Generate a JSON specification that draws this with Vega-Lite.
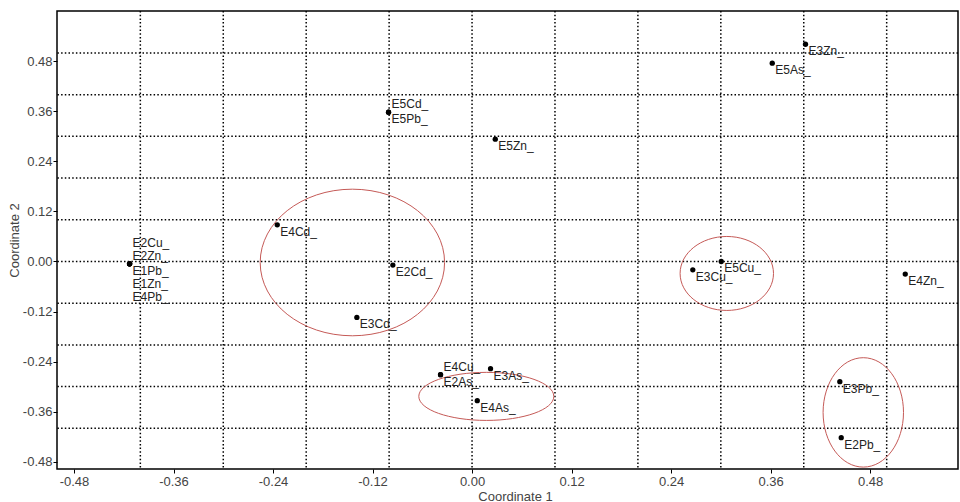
{
  "$schema": "https://vega.github.io/schema/vega-lite/v6.json",
  "autosize": "none",
  "width": 901,
  "height": 458,
  "padding": {"left": 57, "top": 11, "right": 2, "bottom": 33},
  "background": "white",
  "config": {
    "view": {"stroke": "#000000", "strokeWidth": 1.5},
    "font": "Liberation Sans",
    "axis": {
      "grid": false,
      "domain": false,
      "tickColor": "#000000",
      "tickSize": 4,
      "labelFont": "Liberation Sans",
      "labelFontSize": 13,
      "labelColor": "#444444",
      "titleFont": "Liberation Sans",
      "titleFontSize": 13,
      "titleFontWeight": "normal",
      "titleColor": "#444444"
    }
  },
  "datasets": {
    "pts": [
      {"name": "E2Cu_", "x": -0.413, "y": -0.0055, "rank": -2},
      {"name": "E2Zn_", "x": -0.413, "y": -0.0055, "rank": -1},
      {"name": "E1Pb_", "x": -0.413, "y": -0.0055, "rank": 0},
      {"name": "E1Zn_", "x": -0.413, "y": -0.0055, "rank": 1},
      {"name": "E4Pb_", "x": -0.413, "y": -0.0055, "rank": 2},
      {"name": "E4Cd_", "x": -0.2349, "y": 0.0879, "rank": 0},
      {"name": "E5Cd_", "x": -0.1007, "y": 0.3579, "rank": -1},
      {"name": "E5Pb_", "x": -0.1007, "y": 0.3579, "rank": 0},
      {"name": "E5Zn_", "x": 0.028, "y": 0.2932, "rank": 0},
      {"name": "E2Cd_", "x": -0.0955, "y": -0.0086, "rank": 0},
      {"name": "E3Cd_", "x": -0.1389, "y": -0.1342, "rank": 0},
      {"name": "E3Zn_", "x": 0.4021, "y": 0.5208, "rank": 0},
      {"name": "E5As_", "x": 0.362, "y": 0.4753, "rank": 0},
      {"name": "E4Cu_", "x": -0.038, "y": -0.2714, "rank": -1},
      {"name": "E2As_", "x": -0.038, "y": -0.2714, "rank": 0},
      {"name": "E3As_", "x": 0.0223, "y": -0.2571, "rank": 0},
      {"name": "E4As_", "x": 0.0063, "y": -0.3337, "rank": 0},
      {"name": "E3Pb_", "x": 0.4435, "y": -0.2882, "rank": 0},
      {"name": "E2Pb_", "x": 0.4452, "y": -0.4224, "rank": 0},
      {"name": "E5Cu_", "x": 0.3005, "y": 0.0, "rank": 0},
      {"name": "E3Cu_", "x": 0.2662, "y": -0.0199, "rank": 0},
      {"name": "E4Zn_", "x": 0.5224, "y": -0.0302, "rank": 0}
    ],
    "gridx": [{"v": -0.4}, {"v": -0.3}, {"v": -0.2}, {"v": -0.1}, {"v": 0.0}, {"v": 0.1}, {"v": 0.2}, {"v": 0.3}, {"v": 0.4}, {"v": 0.5}],
    "gridy": [{"v": -0.4}, {"v": -0.3}, {"v": -0.2}, {"v": -0.1}, {"v": 0.0}, {"v": 0.1}, {"v": 0.2}, {"v": 0.3}, {"v": 0.4}, {"v": 0.5}],
    "ell": [
      {"group": "Cd", "cx": -0.1443, "cy": -0.0024},
      {"group": "As", "cx": 0.0172, "cy": -0.3234},
      {"group": "Cu", "cx": 0.3072, "cy": -0.0287},
      {"group": "Pb", "cx": 0.4718, "cy": -0.3618}
    ]
  },
  "layer": [
    {
      "data": {"name": "gridx"},
      "mark": {"type": "rule", "color": "#000000", "strokeWidth": 1.5, "strokeDash": [1.5, 2.2]},
      "encoding": {
        "x": {"field": "v", "type": "quantitative", "scale": {"domain": [-0.5005, 0.586], "zero": false, "nice": false},
          "axis": {"values": [-0.48, -0.36, -0.24, -0.12, 0, 0.12, 0.24, 0.36, 0.48], "labelExpr": "replace(format(datum.value, '.2f'), '\u2212', '-')", "title": "Coordinate 1", "labelPadding": 2, "titlePadding": 2, "titleX": 458}}
      }
    },
    {
      "data": {"name": "gridy"},
      "mark": {"type": "rule", "color": "#000000", "strokeWidth": 1.5, "strokeDash": [1.5, 2.2]},
      "encoding": {
        "y": {"field": "v", "type": "quantitative", "scale": {"domain": [-0.4975, 0.6005], "zero": false, "nice": false},
          "axis": {"values": [-0.48, -0.36, -0.24, -0.12, 0, 0.12, 0.24, 0.36, 0.48], "labelExpr": "replace(format(datum.value, '.2f'), '\u2212', '-')", "title": "Coordinate 2", "labelPadding": 1, "titlePadding": 1}}
      }
    },
    {
      "data": {"name": "ell"},
      "transform": [{"filter": "datum.group == 'Cd'"}],
      "mark": {"type": "point", "filled": false, "stroke": "#c55a57", "strokeWidth": 1, "opacity": 1, "size": 34003,
        "shape": "M-1,0 C-1,-0.439 -0.552,-0.795 0,-0.795 C0.552,-0.795 1,-0.439 1,0 C1,0.439 0.552,0.795 0,0.795 C-0.552,0.795 -1,0.439 -1,0 Z"},
      "encoding": {"x": {"field": "cx", "type": "quantitative"}, "y": {"field": "cy", "type": "quantitative"}}
    },
    {
      "data": {"name": "ell"},
      "transform": [{"filter": "datum.group == 'As'"}],
      "mark": {"type": "point", "filled": false, "stroke": "#c55a57", "strokeWidth": 1, "opacity": 1, "size": 18225,
        "shape": "M-1,0 C-1,-0.197 -0.552,-0.356 0,-0.356 C0.552,-0.356 1,-0.197 1,0 C1,0.197 0.552,0.356 0,0.356 C-0.552,0.356 -1,0.197 -1,0 Z"},
      "encoding": {"x": {"field": "cx", "type": "quantitative"}, "y": {"field": "cy", "type": "quantitative"}}
    },
    {
      "data": {"name": "ell"},
      "transform": [{"filter": "datum.group == 'Cu'"}],
      "mark": {"type": "point", "filled": false, "stroke": "#c55a57", "strokeWidth": 1, "opacity": 1, "size": 8724,
        "shape": "M-1,0 C-1,-0.437 -0.552,-0.792 0,-0.792 C0.552,-0.792 1,-0.437 1,0 C1,0.437 0.552,0.792 0,0.792 C-0.552,0.792 -1,0.437 -1,0 Z"},
      "encoding": {"x": {"field": "cx", "type": "quantitative"}, "y": {"field": "cy", "type": "quantitative"}}
    },
    {
      "data": {"name": "ell"},
      "transform": [{"filter": "datum.group == 'Pb'"}],
      "mark": {"type": "point", "filled": false, "stroke": "#c55a57", "strokeWidth": 1, "opacity": 1, "size": 11968,
        "shape": "M-0.735,0 C-0.735,-0.552 -0.406,-1 0,-1 C0.406,-1 0.735,-0.552 0.735,0 C0.735,0.552 0.406,1 0,1 C-0.406,1 -0.735,0.552 -0.735,0 Z"},
      "encoding": {"x": {"field": "cx", "type": "quantitative"}, "y": {"field": "cy", "type": "quantitative"}}
    },
    {
      "data": {"name": "pts"},
      "mark": {"type": "circle", "color": "#000000", "size": 28, "opacity": 1},
      "encoding": {"x": {"field": "x", "type": "quantitative"}, "y": {"field": "y", "type": "quantitative"}}
    },
    {
      "data": {"name": "pts"},
      "transform": [{"filter": "datum.rank == 0"}],
      "mark": {"type": "text", "align": "left", "baseline": "alphabetic", "dx": 3, "dy": 11, "fontSize": 12, "color": "#222222"},
      "encoding": {"x": {"field": "x", "type": "quantitative"}, "y": {"field": "y", "type": "quantitative"}, "text": {"field": "name"}}
    },
    {
      "data": {"name": "pts"},
      "transform": [{"filter": "datum.rank == 1"}],
      "mark": {"type": "text", "align": "left", "baseline": "alphabetic", "dx": 3, "dy": 24, "fontSize": 12, "color": "#222222"},
      "encoding": {"x": {"field": "x", "type": "quantitative"}, "y": {"field": "y", "type": "quantitative"}, "text": {"field": "name"}}
    },
    {
      "data": {"name": "pts"},
      "transform": [{"filter": "datum.rank == 2"}],
      "mark": {"type": "text", "align": "left", "baseline": "alphabetic", "dx": 3, "dy": 37, "fontSize": 12, "color": "#222222"},
      "encoding": {"x": {"field": "x", "type": "quantitative"}, "y": {"field": "y", "type": "quantitative"}, "text": {"field": "name"}}
    },
    {
      "data": {"name": "pts"},
      "transform": [{"filter": "datum.rank == -1"}],
      "mark": {"type": "text", "align": "left", "baseline": "alphabetic", "dx": 3, "dy": -4, "fontSize": 12, "color": "#222222"},
      "encoding": {"x": {"field": "x", "type": "quantitative"}, "y": {"field": "y", "type": "quantitative"}, "text": {"field": "name"}}
    },
    {
      "data": {"name": "pts"},
      "transform": [{"filter": "datum.rank == -2"}],
      "mark": {"type": "text", "align": "left", "baseline": "alphabetic", "dx": 3, "dy": -17, "fontSize": 12, "color": "#222222"},
      "encoding": {"x": {"field": "x", "type": "quantitative"}, "y": {"field": "y", "type": "quantitative"}, "text": {"field": "name"}}
    }
  ]
}
